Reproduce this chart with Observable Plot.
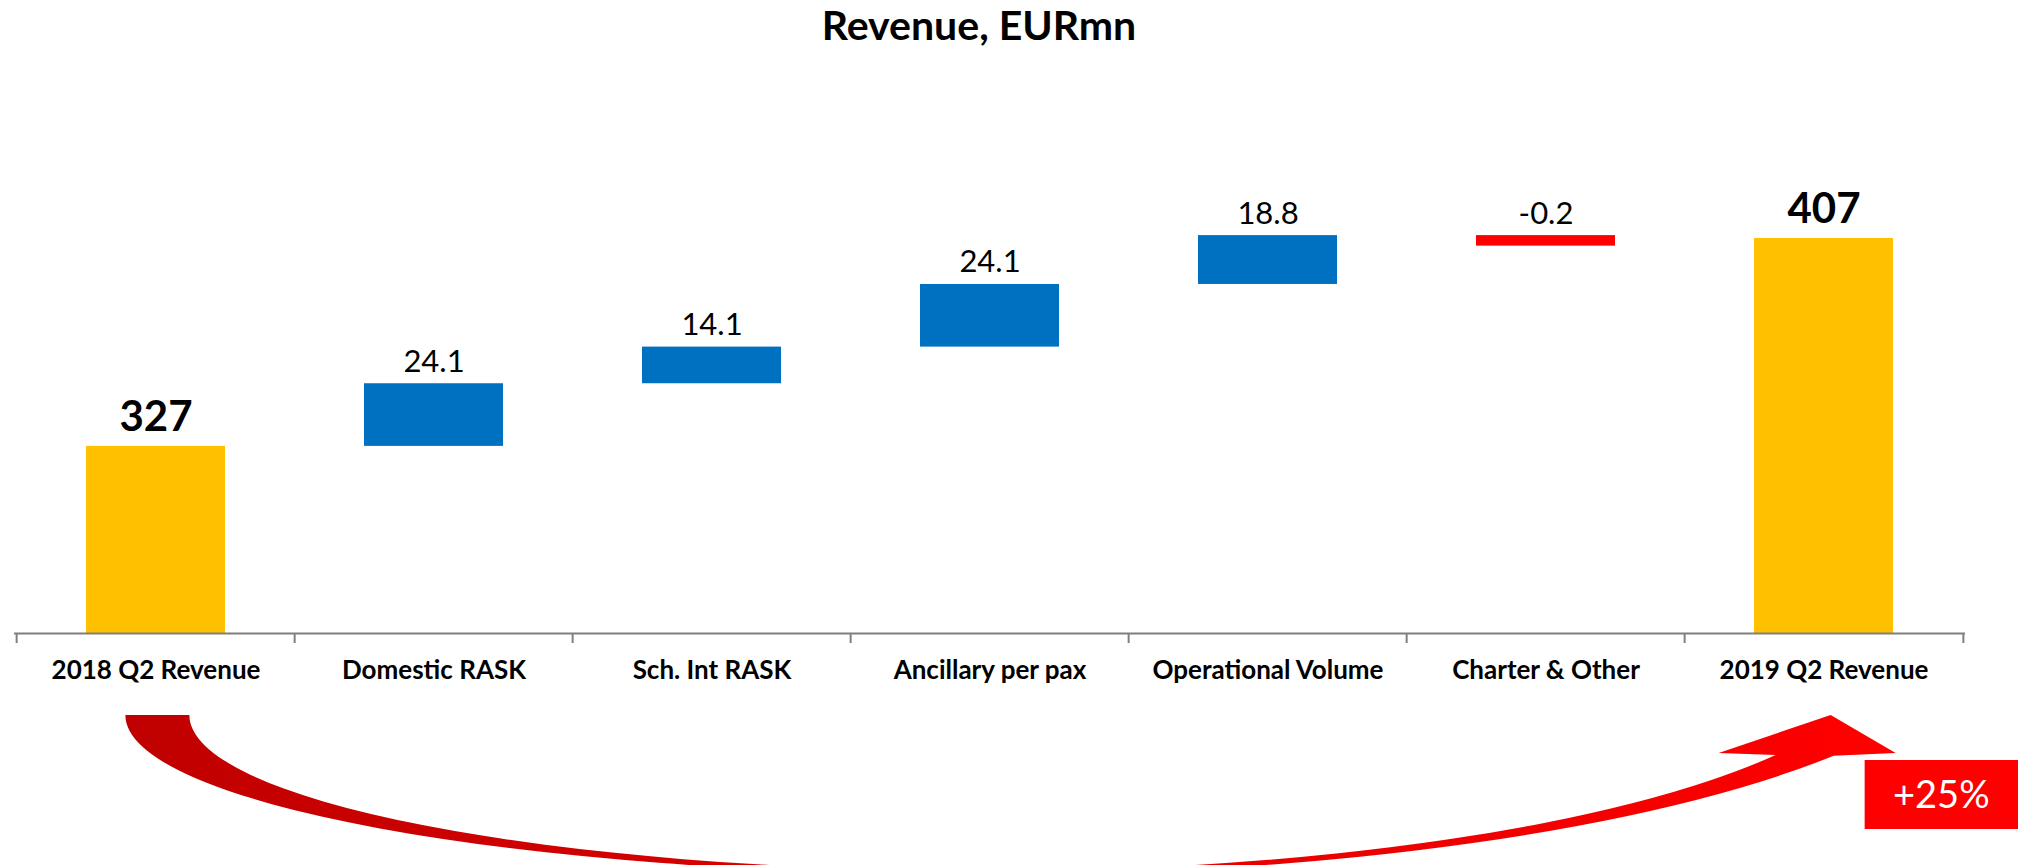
<!DOCTYPE html>
<html><head><meta charset="utf-8">
<script src="https://cdn.jsdelivr.net/npm/d3@7"></script>
<script src="https://cdn.jsdelivr.net/npm/@observablehq/plot@0.6"></script>
<style>
html,body{margin:0;padding:0;background:#fff;overflow:hidden;}
#title{height:60px;width:1958px;text-align:center;font:bold 41px Lato, "Open Sans", sans-serif;line-height:50px;color:#000;}
#chart svg{display:block}
</style></head><body>
<div id="title">Revenue, EURmn</div>
<div id="chart"></div>
<script>
const categories = ["2018 Q2 Revenue","Domestic RASK","Sch. Int RASK","Ancillary per pax","Operational Volume","Charter & Other","2019 Q2 Revenue"];
const values = [327, 24.1, 14.1, 24.1, 18.8, -0.2, 407];
const kinds = ["total","delta","delta","delta","delta","delta","total"];
const valueLabels = ["327","24.1","14.1","24.1","18.8","-0.2","407"];
const growthLabel = ["+25%"];
const yDomain = [255, 437];

let run = 0;
const rows = categories.map((cat, i) => {
  let start, end;
  if (kinds[i] === "total") { start = 0; end = values[i]; run = values[i]; }
  else { start = run; end = run + values[i]; run = end; }
  return {cat, start, end, value: values[i], kind: kinds[i], label: valueLabels[i], top: Math.max(start, end)};
});
const totals = rows.filter(d => d.kind === "total");
const ups = rows.filter(d => d.kind === "delta" && d.value >= 0);
const downs = rows.filter(d => d.kind === "delta" && d.value < 0);

const W = 2018, H = 805, mL = 14, mR = 53, mT = 100, mB = 232;
const step = (W - mL - mR) / categories.length;
const frameH = H - mT - mB;
const font = "Lato, 'Open Sans', sans-serif";

function arrowMark(index, scales, vals, dim) {
  const {width, height, marginLeft, marginRight, marginBottom} = dim;
  const n = categories.length;
  const st = (width - marginLeft - marginRight) / n;
  const c0 = marginLeft + st / 2, cN = marginLeft + (n - 0.5) * st;
  const axisY = height - marginBottom;
  const mid = (c0 + cN) / 2;
  const top = axisY + 82;
  const lo = {rx: mid - (c0 - 28), ry: 160};
  const li = {rx: mid - (c0 + 36), ry: 156};
  const botO = top + lo.ry, botI = top + li.ry;
  const ro = {rx: 1000, ry: 257, cy: botO - 257};
  const ri = {rx: 900, ry: 226, cy: botI - 226};
  const roX = cN + 8, roY = ro.cy + ro.ry * Math.sqrt(1 - ((roX - mid) / ro.rx) ** 2);
  const riX = cN - 50, riY = ri.cy + ri.ry * Math.sqrt(1 - ((riX - mid) / ri.rx) ** 2);
  const baseY = axisY + 120, tipY = axisY + 82;
  const d = `M${c0-28},${top} A${lo.rx},${lo.ry} 0 0 0 ${mid},${botO} A${ro.rx},${ro.ry} 0 0 0 ${roX},${roY} L${cN+70},${baseY} L${cN+5},${tipY} L${cN-107},${baseY} L${riX},${riY} A${ri.rx},${ri.ry} 0 0 1 ${mid},${botI} A${li.rx},${li.ry} 0 0 1 ${c0+36},${top} Z`;
  const g = d3.create("svg:g");
  const grad = g.append("defs").append("linearGradient")
    .attr("id", "arrowGrad").attr("gradientUnits", "userSpaceOnUse")
    .attr("x1", c0 - 28).attr("x2", cN + 70).attr("y1", 0).attr("y2", 0);
  grad.append("stop").attr("offset", 0).attr("stop-color", "#C00000");
  grad.append("stop").attr("offset", 1).attr("stop-color", "#FF0000");
  g.append("path").attr("d", d).attr("fill", "url(#arrowGrad)");
  const bx = cN + 39, by = axisY + 127, bh = 69;
  g.append("rect").attr("x", bx).attr("y", by).attr("width", width - bx).attr("height", bh).attr("fill", "#FF0000");
  g.append("text").attr("x", (bx + width) / 2).attr("y", by + bh / 2).attr("dy", "0.35em")
    .attr("text-anchor", "middle").attr("fill", "#fff").attr("font-size", 38)
    .attr("font-family", font).text(growthLabel[0]);
  return g.node();
}

const plot = Plot.plot({
  width: W, height: H, marginLeft: mL, marginRight: mR, marginTop: mT, marginBottom: mB,
  style: {fontFamily: font, background: "white"},
  x: {domain: categories, paddingInner: 0.5, paddingOuter: 0.25, axis: null, label: null},
  y: {domain: yDomain, axis: null},
  marks: [
    Plot.rectY(totals, {x: "cat", y1: "start", y2: "end", fill: "#FFC000", clip: true}),
    Plot.rectY(ups, {x: "cat", y1: "start", y2: "end", fill: "#0070C0"}),
    Plot.rectY(downs, {x: "cat", y1: "start", y2: "end", fill: "#FF0000", insetBottom: -10}),
    Plot.ruleY([yDomain[0]], {stroke: "#7f7f7f", strokeWidth: 2}),
    Plot.ruleX(categories, {x: d => d, dx: -step / 2, insetTop: frameH, insetBottom: -10, stroke: "#7f7f7f", strokeWidth: 2}),
    Plot.ruleX(categories.slice(-1), {x: d => d, dx: step / 2, insetTop: frameH, insetBottom: -10, stroke: "#7f7f7f", strokeWidth: 2}),
    Plot.axisX({tickSize: 0, tickPadding: 27, fontSize: 26, fontWeight: "bold", color: "#000", label: null}),
    Plot.text(ups.concat(downs), {x: "cat", y: "top", text: "label", fontSize: 31, dy: -22, fill: "#000"}),
    Plot.text(totals, {x: "cat", y: "end", text: "label", fontSize: 42, fontWeight: "bold", dy: -29, fill: "#000"}),
    arrowMark
  ]
});
document.getElementById("chart").appendChild(plot);
</script>
</body></html>
